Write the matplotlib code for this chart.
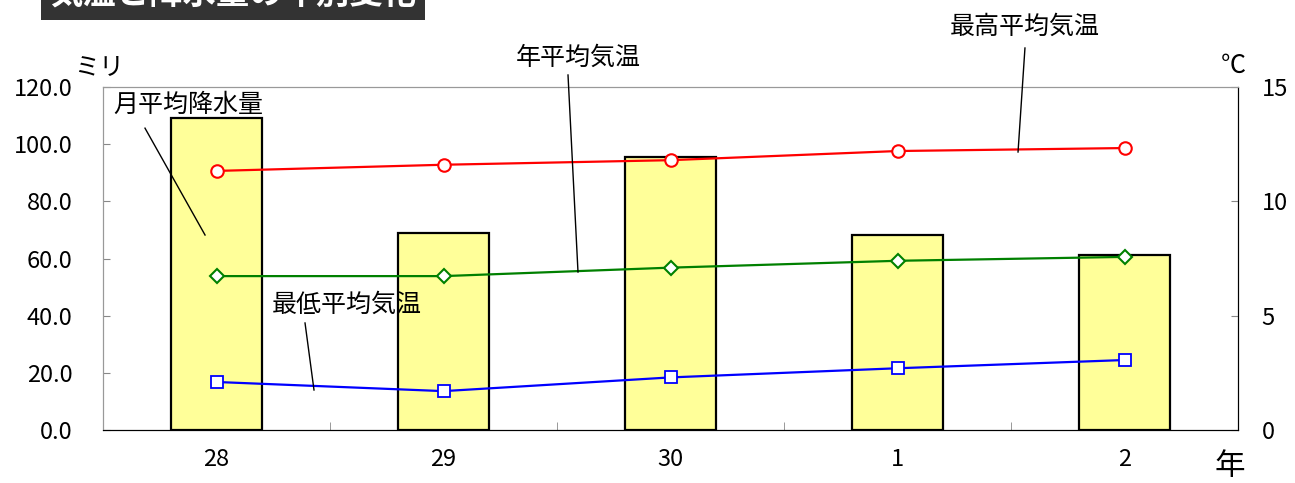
import matplotlib
matplotlib.use("Agg")
import matplotlib.pyplot as plt
import numpy as np

plt.rcParams['font.family'] = ['Noto Sans CJK JP', 'DejaVu Sans']

years = ['28', '29', '30', '1', '2']
rain = [109.2, 68.9, 95.5, 68.2, 61.2]
t_max = [11.33, 11.6, 11.8, 12.2, 12.33]
t_avg = [6.73, 6.73, 7.1, 7.4, 7.57]
t_min = [2.1, 1.7, 2.3, 2.7, 3.06]

W, H = 1295, 483
fig = plt.figure(figsize=(W/100, H/100), dpi=100)
ax = fig.add_axes([103/W, 1-430/H, (1238-103)/W, (430-87)/H])
x = np.arange(len(years))

ax.bar(x, rain, width=0.4, color='#FFFF99', edgecolor='black', linewidth=1.6, zorder=2)
ax.set_xlim(-0.5, len(years)-0.5)
ax.set_ylim(0, 120)
ax.set_yticks(np.arange(0, 121, 20))
ax.set_yticklabels([f'{v:.1f}' for v in np.arange(0, 121, 20)])
ax.set_xticks(x)
ax.set_xticklabels(years)
ax.set_xticks(np.arange(0.5, len(years)-1, 1), minor=True)
ax.tick_params(axis='x', which='major', length=0, pad=13, labelsize=17)
ax.tick_params(axis='x', which='minor', direction='in', length=6, color='#888888')
ax.tick_params(axis='y', direction='in', length=5, pad=22, labelsize=17, color='#888888')
ax.spines['top'].set_color('#999999')
ax.spines['left'].set_color('#999999')
ax.spines['right'].set_color('black')
ax.spines['bottom'].set_color('black')

ax2 = ax.twinx()
ax2.set_ylim(0, 15)
ax2.set_yticks([0, 5, 10, 15])
ax2.tick_params(axis='y', direction='in', length=5, pad=17, labelsize=17, color='#888888')
ax2.spines['top'].set_color('#999999')
ax2.spines['left'].set_color('#999999')
ax2.spines['right'].set_color('black')
ax2.plot(x, t_max, color='red', lw=1.6, marker='o', ms=9, mfc='white', mec='red', mew=1.5, zorder=3)
ax2.plot(x, t_avg, color='green', lw=1.6, marker='D', ms=7, mfc='white', mec='green', mew=1.5, zorder=3)
ax2.plot(x, t_min, color='blue', lw=1.6, marker='s', ms=8, mfc='white', mec='blue', mew=1.3, zorder=3)

def label(text, txy, p1, p2):
    ax2.text(txy[0], txy[1], text, transform=ax.transAxes, ha='center', va='center',
             fontsize=18, zorder=5, clip_on=False)
    ax2.plot([p1[0], p2[0]], [p1[1], p2[1]], transform=ax.transAxes, color='black',
             lw=1.0, clip_on=False, zorder=5)

label('月平均降水量', (0.0749, 0.9475), (0.037, 0.880), (0.0899, 0.5685))
label('年平均気温', (0.4185, 1.0845), (0.4097, 1.035), (0.4185, 0.4606))
label('最高平均気温', (0.8123, 1.1749), (0.8123, 1.1137), (0.8062, 0.8105))
label('最低平均気温', (0.215, 0.3644), (0.178, 0.312), (0.1859, 0.1166))

ax.text(-0.0035, 1.0554, 'ミリ', transform=ax.transAxes, ha='center', va='center', fontsize=18)
ax.text(0.9956, 1.061, '℃', transform=ax.transAxes, ha='center', va='center', fontsize=18)
ax.text(0.993, -0.105, '年', transform=ax.transAxes, ha='center', va='center', fontsize=22)

fig.text(233/W, 1+5/H, '気温と降水量の年別変化', ha='center', va='center', fontsize=24,
         color='white', fontweight='bold',
         bbox=dict(boxstyle='square,pad=0.25', facecolor='#333333', edgecolor='none'))

fig.savefig('out.png', dpi=100)
